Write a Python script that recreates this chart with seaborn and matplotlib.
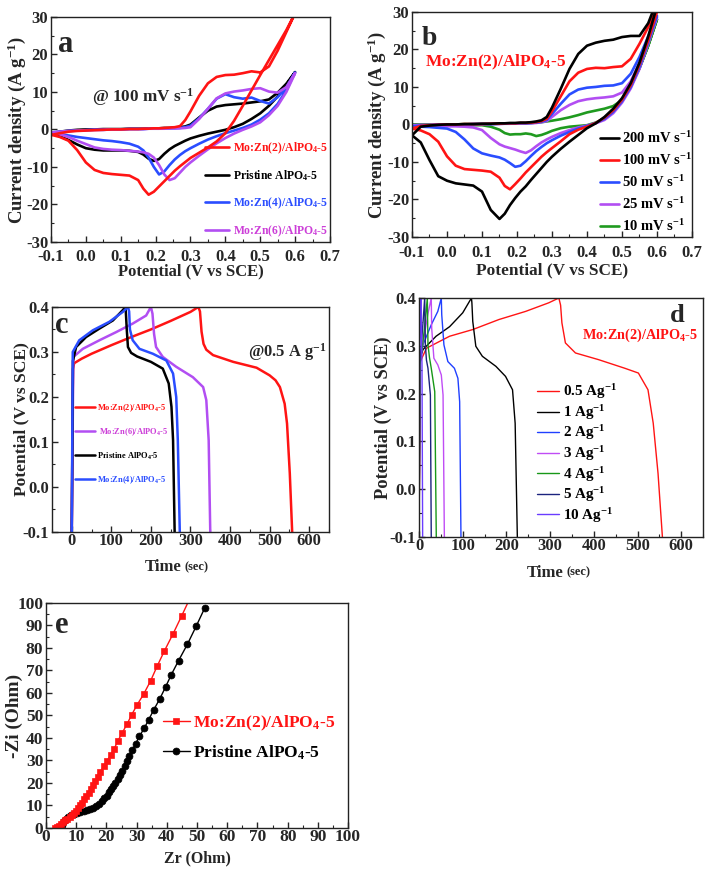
import matplotlib
matplotlib.use("Agg")
import matplotlib.pyplot as plt
from matplotlib.ticker import MultipleLocator, FuncFormatter
import seaborn as sns
import pandas as pd

# ---- shared potential grid for the CV loops (V vs SCE) ----
cv_pot = [-0.1, -0.075, -0.05, -0.025, 0.0, 0.025, 0.05, 0.075, 0.1, 0.125,
          0.15, 0.165, 0.18, 0.195, 0.21, 0.225, 0.24, 0.255, 0.27, 0.285, 0.3,
          0.325, 0.35, 0.375, 0.4, 0.425, 0.45, 0.475, 0.5, 0.525, 0.55, 0.575, 0.6]

# panel a: CV of the four samples at 100 mV/s (forward / reverse sweep)
a_red_fwd = [-1.5, -1.0, -0.6, -0.4, -0.3, -0.2, -0.1, 0.0, 0.0, 0.1,
             0.1, 0.2, 0.2, 0.3, 0.3, 0.4, 0.5, 0.6, 0.9, 2.5, 4.8,
             9.0, 12.3, 14.0, 14.5, 14.6, 15.0, 15.5, 15.2, 16.8, 21.0, 26.0, 31.0]
a_red_rev = [-1.4, -2.0, -3.0, -5.5, -8.8, -10.8, -11.6, -11.9, -12.1, -12.3,
             -13.5, -15.8, -17.4, -16.6, -15.2, -13.8, -12.4, -11.0, -9.8, -8.7, -7.6,
             -6.2, -4.8, -3.2, -1.0, 2.3, 6.3, 10.4, 14.5, 18.5, 22.5, 26.5, 31.0]
a_blk_fwd = [-1.0, -0.6, -0.3, -0.1, 0.0, 0.0, 0.1, 0.1, 0.1, 0.2,
             0.2, 0.2, 0.3, 0.3, 0.3, 0.4, 0.4, 0.5, 0.6, 0.8, 1.3,
             3.2, 5.0, 6.1, 6.5, 6.7, 6.9, 7.2, 7.5, 8.0, 9.8, 12.2, 15.3]
a_blk_rev = [-1.0, -1.8, -2.8, -4.0, -5.0, -5.4, -5.6, -5.6, -5.6, -5.7,
             -6.0, -6.7, -7.8, -8.4, -7.9, -6.5, -5.3, -4.4, -3.7, -3.0, -2.4,
             -1.7, -1.1, -0.6, -0.1, 0.6, 1.5, 2.8, 4.3, 6.3, 8.8, 11.8, 15.3]
a_blu_fwd = [-0.8, -0.6, -0.4, -0.3, -0.2, -0.1, -0.1, 0.0, 0.0, 0.1,
             0.1, 0.1, 0.2, 0.2, 0.2, 0.3, 0.3, 0.3, 0.4, 0.6, 1.0,
             3.0, 5.5, 8.2, 9.4, 8.6, 8.2, 8.5, 7.6, 6.9, 8.6, 11.2, 15.2]
a_blu_rev = [-0.8, -1.2, -1.6, -2.0, -2.3, -2.6, -2.9, -3.1, -3.4, -3.8,
             -4.6, -5.6, -7.5, -10.0, -12.0, -11.2, -9.5, -8.0, -6.8, -5.8, -5.0,
             -3.8, -2.7, -1.8, -1.0, -0.3, 0.4, 1.3, 2.6, 4.3, 6.8, 10.5, 15.2]
a_pur_fwd = [-0.8, -0.6, -0.4, -0.3, -0.2, -0.1, -0.1, 0.0, 0.0, 0.1,
             0.1, 0.1, 0.2, 0.2, 0.2, 0.2, 0.3, 0.3, 0.3, 0.4, 0.6,
             2.8, 5.5, 8.3, 9.6, 10.1, 10.4, 10.8, 11.0, 10.1, 9.8, 11.3, 15.0]
a_pur_rev = [-0.8, -1.3, -2.0, -3.0, -3.9, -4.8, -5.2, -5.4, -5.5, -5.7,
             -5.9, -6.1, -6.5, -7.5, -9.5, -12.0, -13.5, -13.0, -11.5, -10.0, -8.8,
             -7.0, -5.3, -3.7, -2.3, -1.1, -0.1, 0.8, 1.9, 3.8, 6.3, 10.0, 15.0]

# panel b: Mo:Zn(2)/AlPO4-5 at different scan rates
b_blk_fwd = [-2.9, -0.6, -0.3, -0.1, 0.0, 0.0, 0.1, 0.1, 0.2, 0.2,
             0.3, 0.3, 0.4, 0.4, 0.5, 0.5, 0.6, 0.8, 1.1, 2.0, 4.5,
             9.5, 14.8, 18.8, 21.0, 21.8, 22.3, 22.6, 23.3, 23.6, 23.6, 27.0, 33.0]
b_blk_rev = [-2.9, -4.8, -9.5, -13.8, -15.0, -15.7, -16.0, -16.3, -17.9, -22.8,
             -25.2, -23.8, -21.5, -19.6, -17.9, -16.5, -14.8, -13.2, -11.6, -10.0, -8.6,
             -6.5, -4.6, -2.8, -1.0, 0.3, 2.0, 4.2, 7.0, 11.0, 16.5, 23.5, 31.5]
b_red_fwd = [-1.1, -0.4, -0.2, -0.1, 0.0, 0.0, 0.1, 0.1, 0.1, 0.2,
             0.2, 0.3, 0.3, 0.3, 0.4, 0.4, 0.5, 0.6, 0.9, 1.5, 3.5,
             7.5, 11.5, 13.8, 14.8, 15.1, 15.0, 15.3, 15.5, 17.5, 21.5, 26.0, 31.0]
b_red_rev = [-1.1, -1.6, -2.6, -4.6, -8.5, -11.0, -11.9, -12.1, -12.3, -12.6,
             -14.2, -16.4, -17.3, -15.9, -14.4, -12.8, -11.4, -10.0, -8.6, -7.4, -6.3,
             -4.5, -2.6, -1.4, -0.6, 0.4, 1.8, 3.8, 6.6, 10.5, 16.0, 22.5, 30.0]
b_blu_fwd = [-0.5, -0.3, -0.2, -0.1, 0.0, 0.0, 0.0, 0.1, 0.1, 0.1,
             0.2, 0.2, 0.2, 0.3, 0.3, 0.3, 0.4, 0.5, 0.7, 1.2, 2.8,
             5.5, 8.0, 9.3, 9.8, 10.0, 10.3, 10.4, 11.0, 13.5, 18.0, 23.5, 29.0]
b_blu_rev = [-0.5, -0.6, -0.7, -0.9, -1.1, -2.0, -4.0, -6.4, -7.7, -8.3,
             -8.8, -9.4, -10.3, -11.3, -11.0, -9.8, -8.4, -7.1, -6.0, -5.0, -4.2,
             -3.0, -2.0, -1.1, -0.4, 0.4, 1.5, 3.4, 6.2, 10.0, 15.3, 22.0, 29.0]
b_pur_fwd = [-0.2, -0.1, -0.1, 0.0, 0.0, 0.0, 0.0, 0.1, 0.1, 0.1,
             0.1, 0.2, 0.2, 0.2, 0.3, 0.3, 0.3, 0.4, 0.6, 0.9, 2.0,
             3.8, 5.2, 6.2, 6.7, 7.0, 7.2, 7.5, 8.5, 11.5, 16.5, 22.5, 28.6]
b_pur_rev = [-0.2, -0.3, -0.3, -0.4, -0.5, -0.5, -0.6, -0.8, -1.5, -3.6,
             -5.3, -5.9, -6.3, -6.7, -7.2, -7.6, -6.9, -5.8, -4.8, -4.0, -3.3,
             -2.3, -1.5, -0.8, -0.3, 0.3, 1.2, 3.0, 5.8, 9.6, 14.8, 21.5, 28.6]
b_grn_fwd = [0.0, 0.0, 0.0, 0.0, 0.0, 0.0, 0.1, 0.1, 0.1, 0.1,
             0.2, 0.2, 0.2, 0.3, 0.3, 0.3, 0.4, 0.5, 0.6, 0.8, 1.0,
             1.4, 1.9, 2.5, 3.2, 3.7, 4.2, 4.9, 6.5, 10.0, 15.0, 21.0, 28.0]
b_grn_rev = [0.0, 0.0, 0.0, 0.0, -0.1, -0.1, -0.1, -0.2, -0.2, -0.6,
             -1.4, -2.3, -2.7, -2.6, -2.6, -2.4, -2.6, -3.1, -2.8, -2.3, -1.7,
             -1.0, -0.6, -0.4, -0.2, 0.5, 1.6, 3.4, 6.2, 10.2, 15.0, 21.0, 28.0]
b_rates = ["200", "100", "50", "25", "10"]

# panel c: GCD at 0.5 A/g (time s, potential V)
c_red_t = [0, 3, 6, 25, 50, 100, 150, 200, 250, 300, 320, 324, 328, 333, 340,
           357, 408, 467, 500, 515, 526, 538, 544, 551, 557]
c_red_v = [-0.1, 0.262, 0.275, 0.285, 0.296, 0.315, 0.333, 0.35, 0.369, 0.389, 0.4, 0.39,
           0.345, 0.318, 0.305, 0.293, 0.278, 0.265, 0.248, 0.237, 0.222, 0.185, 0.141, 0.03, -0.1]
c_pur_t = [0, 4, 28, 70, 112, 154, 188, 200, 204, 208, 213, 230, 264, 306, 332, 340, 346, 350]
c_pur_v = [-0.1, 0.289, 0.307, 0.326, 0.344, 0.363, 0.381, 0.4, 0.385, 0.34, 0.311,
           0.289, 0.267, 0.244, 0.222, 0.193, 0.104, -0.1]
c_blk_t = [0, 3, 11, 36, 70, 104, 129, 136, 139, 142, 150, 165, 200, 230, 245, 252, 256, 260]
c_blk_v = [-0.1, 0.28, 0.311, 0.333, 0.352, 0.37, 0.393, 0.4, 0.35, 0.311, 0.298, 0.29,
           0.278, 0.263, 0.23, 0.178, 0.104, -0.1]
c_blu_t = [0, 2.5, 19, 53, 95, 129, 142, 145, 147, 154, 171, 205, 239, 256, 264, 268, 273]
c_blu_v = [-0.1, 0.3, 0.326, 0.348, 0.367, 0.389, 0.4, 0.39, 0.35, 0.326, 0.307, 0.296,
           0.281, 0.252, 0.2, 0.104, -0.1]

# panel d: GCD of Mo:Zn(2)/AlPO4-5 at several current densities
d_t = {
    "0.5": [0, 3, 17, 70, 123, 183, 244, 297, 320, 324, 327, 335, 358, 411, 471, 502, 524, 536, 547, 557],
    "1": [0, 3, 9, 39, 70, 100, 120, 121, 123, 130, 145, 176, 198, 214, 220, 225],
    "2": [0, 2, 9, 28, 43, 51, 52, 57, 66, 81, 89, 93, 96],
    "3": [0, 2, 10, 20, 28, 29, 34, 43, 51, 55, 58],
    "4": [0, 1.5, 8, 14, 19, 20.5, 24, 28, 36, 39.5],
    "5": [0, 1, 6, 10, 13, 14.5, 17, 20.5, 26, 28],
    "10": [0, 0.5, 3, 5, 6, 6.8, 8.3],
}
d_v = {
    "0.5": [-0.1, 0.267, 0.295, 0.32, 0.334, 0.355, 0.372, 0.39, 0.4, 0.385, 0.348, 0.306,
            0.285, 0.271, 0.253, 0.243, 0.208, 0.138, 0.033, -0.1],
    "1": [-0.1, 0.275, 0.292, 0.32, 0.34, 0.369, 0.4, 0.39, 0.351, 0.299, 0.278, 0.257,
          0.236, 0.208, 0.138, -0.1],
    "2": [-0.1, 0.27, 0.302, 0.344, 0.372, 0.4, 0.365, 0.302, 0.267, 0.253, 0.232, 0.183, -0.1],
    "3": [-0.1, 0.27, 0.31, 0.365, 0.4, 0.337, 0.274, 0.26, 0.239, 0.197, -0.1],
    "4": [-0.1, 0.26, 0.3, 0.35, 0.4, 0.302, 0.275, 0.253, 0.204, -0.1],
    "5": [-0.1, 0.26, 0.31, 0.36, 0.4, 0.302, 0.27, 0.253, 0.197, -0.1],
    "10": [-0.1, 0.25, 0.33, 0.4, 0.3, 0.26, -0.1],
}

# panel e: Nyquist plot (Zr, -Zi in Ohm)
e_red_zr = [3.0, 3.6, 4.3, 5.0, 5.7, 6.4, 7.1, 7.8, 8.5, 9.2, 9.9, 10.6, 11.3, 12.0, 12.7,
            13.4, 14.1, 14.8, 15.5, 16.3, 17.1, 18.0, 19.1, 20.2, 21.4, 22.6, 23.8, 25.2,
            26.8, 28.4, 30.2, 32.3, 34.6, 36.8, 39.2, 42.0, 44.9, 47.8]
e_red_zi = [0.0, 0.4, 1.0, 1.8, 2.6, 3.4, 4.2, 5.0, 5.8, 6.7, 7.7, 8.8, 10.0, 11.3, 12.7,
            14.2, 15.7, 17.3, 19.0, 20.8, 22.7, 24.9, 27.4, 29.8, 32.4, 35.3, 38.7, 42.2,
            46.1, 50.4, 54.8, 59.4, 65.3, 71.9, 78.7, 86.1, 94.2, 102.5]
e_blk_zr = [4.8, 5.2, 5.8, 6.5, 7.3, 8.2, 9.2, 10.3, 11.4, 12.5, 13.6, 14.7, 15.7, 16.7,
            17.6, 18.5, 19.3, 20.1, 20.9, 21.6, 22.3, 23.0, 23.7, 24.4, 25.2, 26.0, 26.8,
            27.6, 28.6, 29.7, 30.9, 32.5, 34.0, 35.7, 37.6, 39.6, 41.4, 43.9, 46.8, 49.7, 52.6]
e_blk_zi = [0.0, 1.5, 3.0, 4.0, 4.9, 5.6, 6.2, 6.6, 7.0, 7.4, 7.8, 8.3, 9.0, 9.8, 10.8,
            11.9, 13.1, 14.4, 15.8, 17.2, 18.7, 20.2, 21.8, 23.4, 25.3, 27.5, 29.8, 31.9,
            34.5, 37.5, 40.7, 44.3, 48.1, 52.6, 57.2, 62.7, 67.9, 74.4, 81.6, 89.6, 97.9]

RED, BLACK, BLUE, PURPLE, GREEN = "#ff1414", "#000000", "#2a4dff", "#b24ef2", "#1f9a1f"
ALPO = r"AlPO$_{4}$-5"

sns.set_style("ticks")
plt.rcParams.update({
    "font.family": ["Liberation Serif", "DejaVu Serif"],
    "font.weight": "bold",
    "axes.labelweight": "bold",
    "mathtext.fontset": "custom",
    "mathtext.rm": "Liberation Serif:bold",
    "mathtext.bf": "Liberation Serif:bold",
    "mathtext.it": "Liberation Serif:bold",
    "mathtext.default": "rm",
    "axes.unicode_minus": False,
    "axes.linewidth": 1.0,
    "axes.edgecolor": "#222222",
})


def cv_frame(fwd, rev):
    return pd.DataFrame({"E": cv_pot + cv_pot[::-1], "j": fwd + rev[::-1]})


def draw(ax, x, y, color, lw, label=None, **kw):
    df = pd.DataFrame({"x": x, "y": y})
    sns.lineplot(data=df, x="x", y="y", sort=False, estimator=None, color=color,
                 lw=lw, ax=ax, label=label, legend=False, **kw)


def one_dec(v, p):
    return f"{round(v, 1) + 0.0:.1f}"


def style(ax, xlim, ylim, xmaj, xmin, ymaj, ymin, xfmt=None, yfmt=None, fs=12, xpad=1):
    ax.set_xlim(*xlim)
    ax.set_ylim(*ylim)
    ax.xaxis.set_major_locator(MultipleLocator(xmaj))
    ax.xaxis.set_minor_locator(MultipleLocator(xmin))
    ax.yaxis.set_major_locator(MultipleLocator(ymaj))
    ax.yaxis.set_minor_locator(MultipleLocator(ymin))
    if xfmt:
        ax.xaxis.set_major_formatter(FuncFormatter(xfmt))
    if yfmt:
        ax.yaxis.set_major_formatter(FuncFormatter(yfmt))
    ax.tick_params(which="both", direction="in", top=False, right=False)
    ax.tick_params(which="major", length=4, width=1, labelsize=fs)
    ax.tick_params(which="minor", length=2, width=0.8)
    ax.tick_params(axis="x", which="major", pad=xpad)
    ax.tick_params(axis="y", which="major", pad=2)
    for lab in ax.get_xticklabels() + ax.get_yticklabels():
        lab.set_fontweight("bold")


def legend(ax, handles, labels, colors, fs, anchor, spacing, hlen, pad=0.3):
    leg = ax.legend(handles, labels, loc="upper left", bbox_to_anchor=anchor,
                    frameon=False, fontsize=fs, labelspacing=spacing,
                    handlelength=hlen, handletextpad=pad, borderpad=0, borderaxespad=0)
    for t, c in zip(leg.get_texts(), colors):
        t.set_color(c)
        t.set_fontweight("bold")
    return leg


fig = plt.figure(figsize=(7.09, 8.77), dpi=100)
ax_a = fig.add_axes([0.0719, 0.7241, 0.3935, 0.2566])
ax_b = fig.add_axes([0.5811, 0.7298, 0.3949, 0.2566])
ax_c = fig.add_axes([0.0733, 0.3934, 0.3907, 0.2566])
ax_d = fig.add_axes([0.5910, 0.3877, 0.4006, 0.2725])
ax_e = fig.add_axes([0.0649, 0.0559, 0.4260, 0.2566])

# ---------------- a ----------------
ax = ax_a
for fwd, rev, col in [(a_blk_fwd, a_blk_rev, BLACK), (a_blu_fwd, a_blu_rev, BLUE),
                      (a_pur_fwd, a_pur_rev, PURPLE), (a_red_fwd, a_red_rev, RED)]:
    df = cv_frame(fwd, rev)
    draw(ax, df["E"], df["j"], col, 1.9)
style(ax, (-0.1, 0.7), (-30, 30), 0.1, 0.05, 10, 5, xfmt=one_dec, xpad=5.2)
ax.set_xlabel("Potential (V vs SCE)", fontsize=12)
ax.set_ylabel(r"Current density (A g$^{-1}$)", fontsize=13.5)
ax.xaxis.set_label_coords(0.5, -0.097)
ax.yaxis.set_label_coords(-0.083, 0.5)
ax.text(0.025, 0.844, "a", transform=ax.transAxes, fontsize=22, fontweight="bold")
ax.text(0.147, 0.622, r"@ 100 mV s$^{-1}$", transform=ax.transAxes, fontsize=12.3, fontweight="bold")
hs = ax.get_lines()
legend(ax, [hs[3], hs[0], hs[1], hs[2]],
       ["Mo:Zn(2)/" + ALPO, "Pristine " + ALPO, "Mo:Zn(4)/" + ALPO, "Mo:Zn(6)/" + ALPO],
       [RED, BLACK, BLUE, "#cc3fd8"], 8.4, (0.552, 0.451), 1.06, 2.1)

# ---------------- b ----------------
ax = ax_b
b_sets = [(b_blk_fwd, b_blk_rev, BLACK), (b_red_fwd, b_red_rev, RED), (b_blu_fwd, b_blu_rev, BLUE),
          (b_pur_fwd, b_pur_rev, PURPLE), (b_grn_fwd, b_grn_rev, GREEN)]
for fwd, rev, col in b_sets[::-1]:
    df = cv_frame(fwd, rev)
    draw(ax, df["E"], df["j"], col, 1.9)
style(ax, (-0.1, 0.7), (-30, 30), 0.1, 0.05, 10, 5, xfmt=one_dec, xpad=5.5)
ax.set_xlabel("Potential (V vs SCE)", fontsize=12.4)
ax.set_ylabel(r"Current density (A g$^{-1}$)", fontsize=13.5)
ax.xaxis.set_label_coords(0.5, -0.112)
ax.yaxis.set_label_coords(-0.086, 0.5)
ax.text(0.036, 0.853, "b", transform=ax.transAxes, fontsize=20, fontweight="bold")
ax.text(0.046, 0.757, "Mo:Zn(2)/" + ALPO, transform=ax.transAxes, fontsize=12.5,
        fontweight="bold", color=RED)
hs = ax.get_lines()[::-1]
legend(ax, hs, [r + r" mV s$^{-1}$" for r in b_rates], [BLACK] * 5, 10.5, (0.671, 0.474), 0.41, 1.3, 0.25)

# ---------------- c ----------------
ax = ax_c
for t, v, col in [(c_red_t, c_red_v, RED), (c_pur_t, c_pur_v, PURPLE),
                  (c_blk_t, c_blk_v, BLACK), (c_blu_t, c_blu_v, BLUE)]:
    draw(ax, t, v, col, 1.8)
style(ax, (-50, 650), (-0.1, 0.4), 100, 50, 0.1, 0.05, yfmt=one_dec)
ax.set_xlabel("")
ax.set_ylabel("Potential (V vs SCE)", fontsize=12.6)
ax.yaxis.set_label_coords(-0.083, 0.5)
ax.text(0.468, -0.156, "Time", transform=ax.transAxes, ha="right", va="center", fontsize=12)
ax.text(0.48, -0.156, "(sec)", transform=ax.transAxes, ha="left", va="center", fontsize=9)
ax.text(0.011, 0.884, "c", transform=ax.transAxes, fontsize=22, fontweight="bold")
ax.text(0.708, 0.779, r"@0.5 A g$^{-1}$", transform=ax.transAxes, fontsize=11.9, fontweight="bold")
hs = ax.get_lines()
legend(ax, hs, ["Mo:Zn(2)/" + ALPO, " Mo:Zn(6)/" + ALPO, "Pristine " + ALPO, "Mo:Zn(4)/" + ALPO],
       [RED, "#cc3fd8", BLACK, BLUE], 6, (0.083, 0.577), 1.5, 2.4, 0.25)

# ---------------- d ----------------
ax = ax_d
d_cols = {"0.5": RED, "1": BLACK, "2": "#2040ff", "3": "#c04cf5", "4": "#189818",
          "5": "#1b237e", "10": "#6a3cff"}
for k in d_t:
    draw(ax, d_t[k], d_v[k], d_cols[k], 1.0)
style(ax, (0, 650), (-0.1, 0.4), 100, 50, 0.1, 0.05, yfmt=one_dec)
ax.set_xlabel("")
ax.set_ylabel("Potential (V vs SCE)", fontsize=13.3)
ax.yaxis.set_label_coords(-0.095, 0.5)
ax.text(0.507, -0.149, "Time", transform=ax.transAxes, ha="right", va="center", fontsize=12)
ax.text(0.52, -0.149, "(sec)", transform=ax.transAxes, ha="left", va="center", fontsize=9)
ax.text(0.884, 0.9, "d", transform=ax.transAxes, fontsize=19, fontweight="bold")
ax.text(0.574, 0.83, "Mo:Zn(2)/" + ALPO, transform=ax.transAxes, fontsize=10.3,
        fontweight="bold", color=RED)
hs = ax.get_lines()
legend(ax, hs, [k + r" Ag$^{-1}$" for k in d_t], [BLACK] * 7, 10.9, (0.414, 0.647), 0.11, 1.45, 0.3)

# ---------------- e ----------------
ax = ax_e
draw(ax, e_blk_zr, e_blk_zi, BLACK, 1.0, marker="o", markersize=5,
     markeredgecolor=BLACK, markeredgewidth=0.5)
draw(ax, e_red_zr, e_red_zi, RED, 1.0, marker="s", markersize=4.5,
     markeredgecolor=RED, markeredgewidth=0.5)
style(ax, (0, 100), (0, 100), 10, 5, 10, 5, fs=12.5)
ax.set_xlabel("Zr (Ohm)", fontsize=11.5)
ax.set_ylabel("-Zi (Ohm)", fontsize=13.9)
ax.xaxis.set_label_coords(0.5, -0.1)
ax.yaxis.set_label_coords(-0.076, 0.5)
ax.text(0.03, 0.867, "e", transform=ax.transAxes, fontsize=22, fontweight="bold")
hs = ax.get_lines()
legend(ax, [hs[1], hs[0]], ["Mo:Zn(2)/" + ALPO, "Pristine " + ALPO], [RED, BLACK],
       12.6, (0.387, 0.507), 0.6, 1.55, 0.15)

fig.savefig("out.png", dpi=100)
plt.close(fig)
